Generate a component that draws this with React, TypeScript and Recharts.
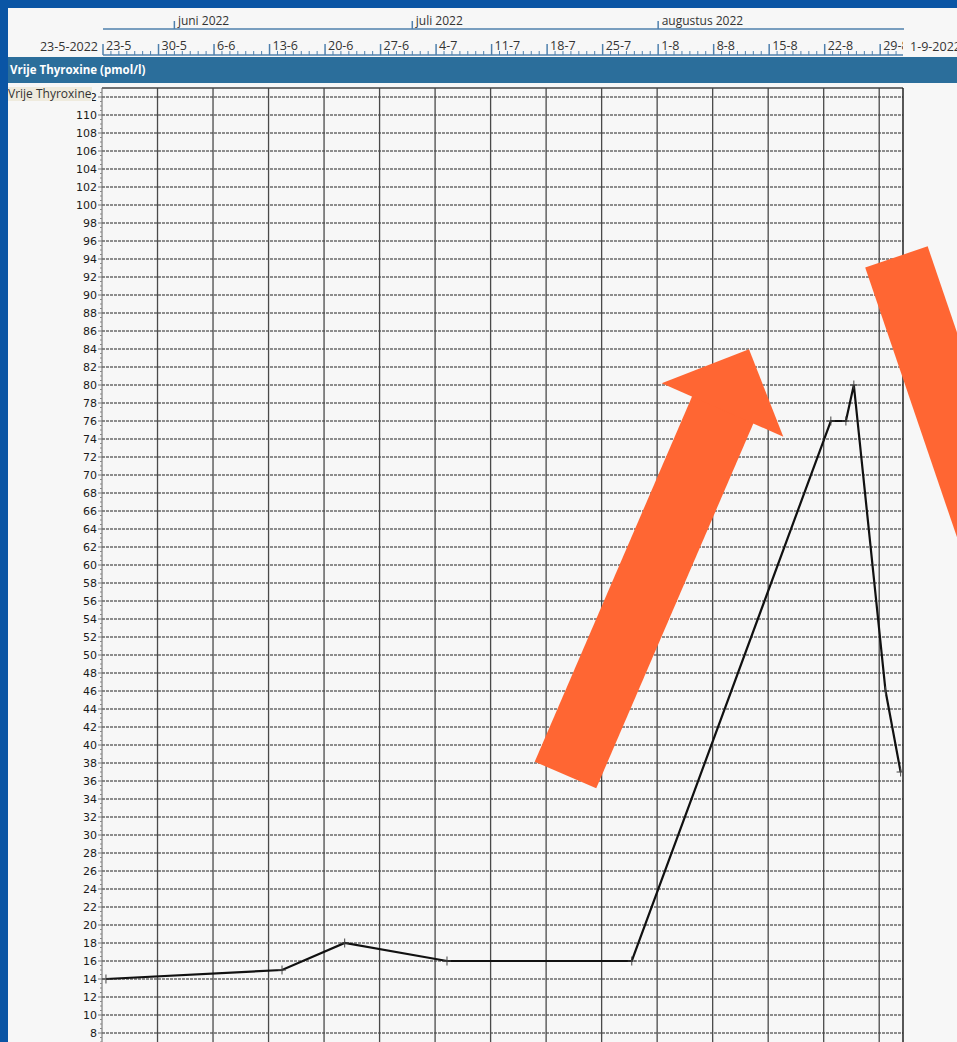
import React from 'react';
import { LineChart, Line, XAxis, YAxis, ReferenceLine, ReferenceDot } from 'recharts';

// ---------- data ----------
const startLabel = '23-5-2022';
const endLabel = '1-9-2022';
const panelTitle = 'Vrije Thyroxine (pmol/l)';
const seriesName = 'Vrije Thyroxine';

// measurement moments, in days after 23-5-2022
const measureDays = [0.5, 22.7, 30.6, 43.5, 66.8, 91.9, 93.8, 94.8, 98.8, 100.7];
const ft4Values = [14, 15, 18, 16, 16, 76, 76, 80, 46, 37];

const weekDays = [0, 7, 14, 21, 28, 35, 42, 49, 56, 63, 70, 77, 84, 91, 98];
const weekLabels = ['23-5', '30-5', '6-6', '13-6', '20-6', '27-6', '4-7', '11-7', '18-7', '25-7', '1-8', '8-8', '15-8', '22-8', '29-8'];
const monthDays = [9, 39, 70];
const monthLabels = ['juni 2022', 'juli 2022', 'augustus 2022'];
const dayTicks = Array.from({ length: 102 }, (_, i) => i);
const yMajorTicks = Array.from({ length: 57 }, (_, i) => i * 2);
const yAllTicks = Array.from({ length: 227 }, (_, i) => i * 0.5);

// annotation arrows (data coordinates: day, value)
const arrowUpShaft = [{ x: 58.44, y: 36.67 }, { x: 78.74, y: 78.19 }];
const arrowUpHead = { x: 78.24, y: 77.17 };
const arrowDownShaft = [{ x: 100.17, y: 94.23 }, { x: 114.9, y: 56.1 }];

const X_DOMAIN: [number, number] = [0, 101];
const Y_DOMAIN: [number, number] = [0, 113];

const rows = measureDays.map((d, i) => ({ day: d, value: ft4Values[i] }));
const headerRows = [{ day: 0 }, { day: 101 }];

const UI_FONT = '"Open Sans", "Noto Sans", sans-serif';
const AXIS_BLUE = '#4f80ad';
const ORANGE = '#ff6633';

const MonthTick = (props: any) => {
  const { x, y, payload } = props;
  const idx = monthDays.indexOf(payload.value);
  return (
    <g>
      <line x1={x} x2={x} y1={y} y2={y - 8} stroke={AXIS_BLUE} strokeWidth={1.5} />
      <text x={x + 3.5} y={y - 4.5} fontSize={12} fontFamily={UI_FONT} fill="#333">
        {monthLabels[idx]}
      </text>
    </g>
  );
};

const WeekTick = (props: any) => {
  const { x, y, payload } = props;
  const idx = weekDays.indexOf(payload.value);
  if (idx >= 0) {
    return (
      <g>
        <line x1={x} x2={x} y1={y} y2={y - 11} stroke={AXIS_BLUE} strokeWidth={1.5} />
        <text x={x + 3} y={y - 5} fontSize={12.5} fontFamily={UI_FONT} fill="#333">
          {weekLabels[idx]}
        </text>
      </g>
    );
  }
  return <line x1={x} x2={x} y1={y} y2={y - 4} stroke={AXIS_BLUE} strokeWidth={1} />;
};

const YTick = (props: any) => {
  const { x, y, payload } = props;
  const v = payload.value;
  if (v > 112.5) return <g />;
  if (v % 2 === 0) {
    return (
      <g>
        <line x1={x - 4} x2={x} y1={y} y2={y} stroke="#777" strokeWidth={1} />
        <text x={x - 5} y={y} dy="0.36em" textAnchor="end" fontSize={11} fontFamily='"DejaVu Sans", sans-serif' fill="#1a1a1a">
          {v}
        </text>
      </g>
    );
  }
  return <line x1={x - 2} x2={x} y1={y} y2={y} stroke="#888" strokeWidth={1} />;
};

const CrossDot = (props: any) => {
  const { cx, cy, index } = props;
  return (
    <g key={`dot-${index}`}>
      <line x1={cx} x2={cx} y1={cy - 4.5} y2={cy + 4.5} stroke="#444" strokeWidth={1} />
      <line x1={cx - 4} x2={cx + 4} y1={cy} y2={cy} stroke="#444" strokeWidth={1} />
    </g>
  );
};

const ArrowHead = (props: any) => {
  const { cx, cy } = props;
  const pts = [
    [cx - 60.8, cy - 27.2],
    [cx + 26.5, cy - 61.2],
    [cx + 60.8, cy + 26.2],
  ]
    .map((p) => p.join(','))
    .join(' ');
  return <polygon points={pts} fill={ORANGE} />;
};

export default function App() {
  return (
    <div style={{ position: 'absolute', left: 0, top: 0, width: 957, height: 1042, overflow: 'hidden', background: '#0a55a5' }}>
      <div style={{ position: 'absolute', left: 8, top: 8, right: 0, bottom: 0, background: '#f7f7f7' }} />

      {/* month axis */}
      <div style={{ position: 'absolute', left: 1, top: 0, width: 957, height: 31 }}>
        <LineChart width={957} height={31} margin={{ top: 0, left: 102, right: 54, bottom: 0 }} data={headerRows}>
          <XAxis
            xAxisId="m"
            orientation="top"
            type="number"
            dataKey="day"
            domain={X_DOMAIN}
            ticks={monthDays}
            interval={0}
            height={29}
            tickSize={0}
            tickMargin={0}
            tickLine={false}
            tick={MonthTick}
            axisLine={{ stroke: AXIS_BLUE, strokeWidth: 1.5 }}
            allowDataOverflow
          />
        </LineChart>
      </div>

      {/* week axis */}
      <div style={{ position: 'absolute', left: 1, top: 0, width: 902, height: 57, overflow: 'hidden' }}>
        <LineChart width={957} height={57} margin={{ top: 29, left: 102, right: 54, bottom: 0 }} data={headerRows}>
          <XAxis
            xAxisId="w"
            orientation="top"
            type="number"
            dataKey="day"
            domain={X_DOMAIN}
            ticks={dayTicks}
            interval={0}
            height={26}
            tickSize={0}
            tickMargin={0}
            tickLine={false}
            tick={WeekTick}
            axisLine={{ stroke: AXIS_BLUE, strokeWidth: 1.5 }}
            allowDataOverflow
          />
        </LineChart>
      </div>

      <div style={{ position: 'absolute', left: 36, top: 38, width: 62, textAlign: 'right', fontFamily: UI_FONT, fontSize: 12.5, color: '#333', lineHeight: '17px', whiteSpace: 'nowrap' }}>
        {startLabel}
      </div>
      <div style={{ position: 'absolute', left: 910, top: 38, fontFamily: UI_FONT, fontSize: 12.5, color: '#333', lineHeight: '17px', whiteSpace: 'nowrap' }}>
        {endLabel}
      </div>

      {/* title bar */}
      <div style={{ position: 'absolute', left: 8, top: 57, right: 0, height: 26, background: '#2b6e9b', color: '#fff', fontFamily: UI_FONT, fontWeight: 700, fontSize: 11.5, lineHeight: '26px', paddingLeft: 2, whiteSpace: 'nowrap' }}>
        {panelTitle}
      </div>

      {/* main chart */}
      <div style={{ position: 'absolute', left: 0, top: 0, width: 957, height: 1110 }}>
        <LineChart width={957} height={1110} margin={{ top: 88, right: 54, left: 0, bottom: 5 }} data={rows}>
          <XAxis type="number" dataKey="day" domain={X_DOMAIN} hide allowDataOverflow />
          <YAxis
            type="number"
            domain={Y_DOMAIN}
            ticks={yAllTicks}
            interval={0}
            width={102}
            tickSize={0}
            tickMargin={0}
            tickLine={false}
            tick={YTick}
            axisLine={{ stroke: '#666' }}
            allowDataOverflow
          />
          {yMajorTicks.map((v) => (
            <ReferenceLine key={`h${v}`} y={v} stroke="#222" strokeDasharray="3 1" strokeWidth={1} />
          ))}
          {weekDays.slice(1).map((d) => (
            <ReferenceLine key={`v${d}`} x={d} stroke="#4a4a4a" strokeWidth={1.3} />
          ))}
          <ReferenceLine y={113} stroke="#444" strokeWidth={1.5} />
          <ReferenceLine x={101} stroke="#222" strokeWidth={1.5} />
          <Line
            dataKey="value"
            stroke="#111"
            strokeWidth={2.2}
            dot={CrossDot}
            activeDot={false}
            isAnimationActive={false}
          />
          <ReferenceLine segment={arrowUpShaft} stroke={ORANGE} strokeWidth={67} ifOverflow="visible" />
          <ReferenceDot x={arrowUpHead.x} y={arrowUpHead.y} ifOverflow="visible" shape={ArrowHead} />
          <ReferenceLine segment={arrowDownShaft} stroke={ORANGE} strokeWidth={66} ifOverflow="visible" />
        </LineChart>
      </div>

      {/* series label box */}
      <div style={{ position: 'absolute', left: 8, top: 87, width: 84, height: 14, background: '#efebde', fontFamily: UI_FONT, fontSize: 12, color: '#333', lineHeight: '14px', whiteSpace: 'nowrap', overflow: 'hidden' }}>
        {seriesName}
      </div>
    </div>
  );
}
